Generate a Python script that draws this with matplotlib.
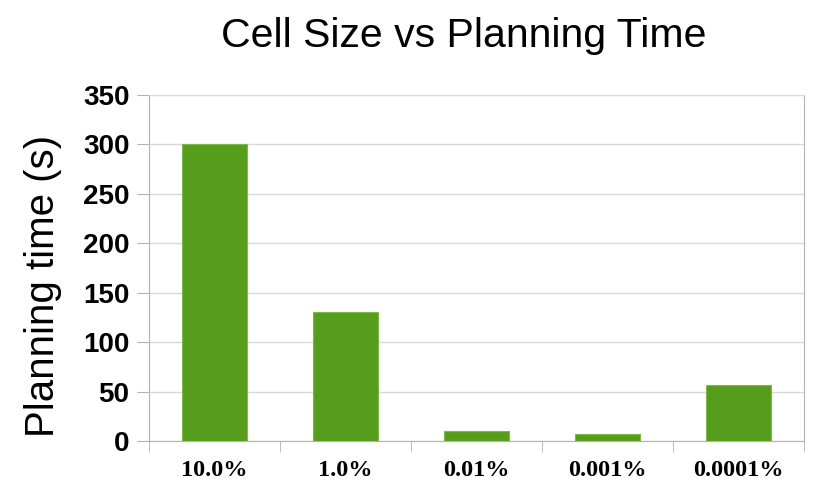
import matplotlib.pyplot as plt
import numpy as np

categories = ["10.0%", "1.0%", "0.01%", "0.001%", "0.0001%"]
planning_time = [300, 130, 10, 7, 57]
y_ticks = [0, 50, 100, 150, 200, 250, 300, 350]

fig = plt.figure(figsize=(8.3, 5.01), dpi=100)
ax = fig.add_axes([149 / 830, 1 - 441 / 501, (804 - 149) / 830, (441 - 95) / 501])

x = np.arange(len(categories))
ax.bar(x, planning_time, width=0.5, color="#579d1c", edgecolor="#7cb84a", linewidth=0.8, zorder=3)

ax.set_xlim(-0.5, len(categories) - 0.5)
ax.set_ylim(0, 350)
ax.set_yticks(y_ticks)
ax.set_yticklabels([str(t) for t in y_ticks], fontsize=20, fontweight="bold",
                   family="Liberation Sans")
ax.set_xticks(x)
ax.set_xticklabels(categories, fontsize=17.5, fontweight="bold", family="Liberation Serif")
ax.set_xticks(np.arange(len(categories) + 1) - 0.5, minor=True)
ax.tick_params(axis="x", which="major", length=0, pad=14)
ax.tick_params(axis="x", which="minor", length=8, color="#b3b3b3")
ax.tick_params(axis="y", length=9, color="#b3b3b3", pad=5)

ax.grid(axis="y", color="#d9d9d9", linewidth=1, zorder=0)
for s in ax.spines.values():
    s.set_color("#b3b3b3")
ax.spines["top"].set_color("#d9d9d9")

fig.text(464 / 830, 1 - 36 / 501, "Cell Size vs Planning Time", ha="center", va="center",
         fontsize=29.5, family="Liberation Sans")
fig.text(43 / 830, 1 - 286 / 501, "Planning time (s)", ha="center", va="center",
         rotation=90, fontsize=29, family="Liberation Sans")

fig.savefig("out.png", dpi=100)
